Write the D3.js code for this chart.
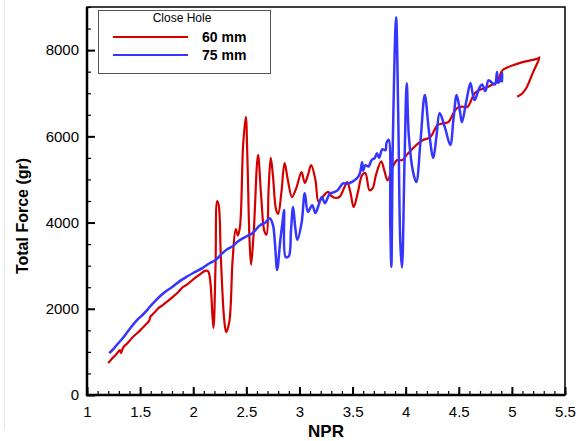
<!DOCTYPE html>
<html><head><meta charset="utf-8">
<script src="https://cdn.jsdelivr.net/npm/d3@7"></script>
<style>body{margin:0;background:#fff}svg{display:block}</style>
</head><body><svg id="c" width="583" height="441"></svg>
<script>
const xTicks = [1,1.5,2,2.5,3,3.5,4,4.5,5,5.5];
const yTicks = [0,2000,4000,6000,8000];
const seriesNames = ["60 mm","75 mm"];
const legendTitle = "Close Hole";
const red60 = [[1.20,740],[1.23,830],[1.27,930],[1.31,1040],[1.32,970],[1.34,1100],[1.38,1200],[1.43,1340],[1.48,1450],[1.52,1550],[1.56,1650],[1.585,1720],[1.60,1830],[1.63,1900],[1.67,2010],[1.71,2080],[1.75,2160],[1.80,2260],[1.86,2390],[1.90,2500],[1.94,2560],[1.97,2620],[2.02,2720],[2.06,2790],[2.11,2880],[2.14,2870],[2.16,2650],[2.19,1550],[2.21,3000],[2.225,4500],[2.24,4400],[2.26,3200],[2.29,1800],[2.31,1460],[2.34,1700],[2.37,3100],[2.40,3850],[2.42,3700],[2.44,3900],[2.47,5800],[2.495,6450],[2.51,5500],[2.53,3600],[2.545,3020],[2.57,3800],[2.61,5570],[2.64,4600],[2.67,3800],[2.69,3720],[2.71,4800],[2.73,5500],[2.75,5100],[2.78,4300],[2.80,4200],[2.83,4700],[2.86,5380],[2.89,5000],[2.93,4590],[2.97,4800],[3.02,5170],[3.05,4920],[3.08,5100],[3.11,5330],[3.15,5000],[3.18,4480],[3.22,4600],[3.27,4710],[3.30,4620],[3.34,4570],[3.38,4600],[3.42,4800],[3.45,4940],[3.48,4700],[3.51,4360],[3.55,4700],[3.59,5100],[3.62,5150],[3.66,4750],[3.69,4800],[3.72,5100],[3.77,5420],[3.80,5200],[3.83,4980],[3.88,5300],[3.92,5450],[3.97,5450],[4.01,5570],[4.06,5700],[4.11,5820],[4.16,5910],[4.23,5980],[4.30,6260],[4.35,6300],[4.40,6330],[4.48,6650],[4.53,6690],[4.58,6680],[4.65,7000],[4.70,7080],[4.75,7120],[4.80,7180],[4.86,7260],[4.91,7530],[4.96,7600],[5.01,7650],[5.10,7720],[5.19,7770],[5.25,7810],[5.26,7830],[5.24,7700],[5.20,7490],[5.14,7140],[5.10,7000],[5.05,6920]];
const blue75 = [[1.21,970],[1.25,1070],[1.28,1160],[1.33,1300],[1.38,1460],[1.43,1620],[1.48,1760],[1.52,1850],[1.56,1950],[1.59,2040],[1.65,2200],[1.70,2320],[1.75,2420],[1.80,2500],[1.89,2670],[1.95,2760],[2.00,2830],[2.09,2950],[2.15,3050],[2.21,3130],[2.27,3280],[2.32,3380],[2.37,3450],[2.42,3560],[2.47,3640],[2.51,3690],[2.56,3760],[2.63,3940],[2.68,4000],[2.72,4100],[2.75,3950],[2.77,3500],[2.79,2900],[2.82,3600],[2.84,3990],[2.855,4290],[2.87,3200],[2.90,3220],[2.92,3800],[2.94,4360],[2.96,3900],[2.98,3600],[3.02,3990],[3.05,4680],[3.08,4250],[3.12,4400],[3.15,4220],[3.18,4400],[3.21,4590],[3.24,4450],[3.27,4600],[3.29,4680],[3.32,4700],[3.36,4750],[3.41,4910],[3.45,4900],[3.50,4950],[3.55,5050],[3.57,5150],[3.59,5400],[3.60,5200],[3.62,5330],[3.65,5300],[3.68,5450],[3.71,5500],[3.73,5610],[3.75,5500],[3.78,5700],[3.81,5680],[3.82,5850],[3.84,5920],[3.855,4000],[3.865,2970],[3.88,6000],[3.91,8760],[3.93,6500],[3.95,3500],[3.965,2950],[3.99,5500],[4.01,7230],[4.03,6000],[4.07,5170],[4.10,4940],[4.14,5900],[4.18,6960],[4.22,6100],[4.26,5500],[4.29,6000],[4.32,6540],[4.37,6200],[4.42,5800],[4.45,6400],[4.48,6960],[4.51,6600],[4.53,6330],[4.57,6800],[4.61,7240],[4.63,7000],[4.65,6840],[4.69,7100],[4.72,7200],[4.75,7050],[4.78,7300],[4.81,7250],[4.84,7200],[4.86,7490],[4.87,7240],[4.89,7300],[4.91,7470],[4.905,7250]];

const svg = d3.select("#c");
const L=87, R=565, T=7, B=395;
const x = d3.scaleLinear().domain([1,5.5]).range([L,R]);
const y = d3.scaleLinear().domain([0,9000]).range([B,T]);
const font = "Liberation Sans, Arial, sans-serif";

svg.append("line").attr("x1",4.5).attr("x2",4.5).attr("y1",0).attr("y2",430).attr("stroke","#e6e6e6");

svg.append("rect").attr("x",L).attr("y",T).attr("width",R-L).attr("height",B-T)
  .attr("fill","none").attr("stroke","#000").attr("stroke-width",1.5);

const line = d3.line().x(d=>x(d[0])).y(d=>y(d[1])).curve(d3.curveCatmullRom.alpha(0.5));
svg.append("path").datum(red60).attr("d",line).attr("fill","none").attr("stroke","#d40000").attr("stroke-width",2.2).attr("stroke-linejoin","round");
svg.append("path").datum(blue75).attr("d",line).attr("fill","none").attr("stroke","#3535ff").attr("stroke-width",2.5).attr("stroke-linejoin","round");

const xMinor = d3.range(10,56).map(v=>v/10);
const xa = d3.axisBottom(x).tickValues(xMinor).tickSize(-4).tickFormat("");
svg.append("g").attr("transform",`translate(0,${B})`).call(xa).call(g=>{g.select(".domain").remove();g.selectAll("line").attr("stroke-width",1.2);});
const xb = d3.axisBottom(x).tickValues(xTicks).tickSize(-8).tickPadding(11).tickFormat(d3.format("~g"));
svg.append("g").attr("transform",`translate(0,${B})`).call(xb).call(g=>{g.select(".domain").remove();g.selectAll("line").attr("stroke-width",2);g.selectAll("text").attr("font-family",font).attr("font-size",15).attr("fill","#000");});

const yMinor = d3.range(0,9001,500);
const ya = d3.axisLeft(y).tickValues(yMinor).tickSize(-4).tickFormat("");
svg.append("g").attr("transform",`translate(${L},0)`).call(ya).call(g=>{g.select(".domain").remove();g.selectAll("line").attr("stroke-width",1.2);});
const yb = d3.axisLeft(y).tickValues(yTicks).tickSize(-8).tickPadding(8).tickFormat(d3.format("d"));
svg.append("g").attr("transform",`translate(${L},0)`).call(yb).call(g=>{g.select(".domain").remove();g.selectAll("line").attr("stroke-width",2);g.selectAll("text").attr("font-family",font).attr("font-size",15).attr("fill","#000");});

svg.append("line").attr("x1",L).attr("x2",L).attr("y1",T).attr("y2",B+1).attr("stroke","#000").attr("stroke-width",2.5);
svg.append("line").attr("x1",L-1).attr("x2",R).attr("y1",B).attr("y2",B).attr("stroke","#000").attr("stroke-width",2.5);

svg.append("text").attr("x",(L+R)/2).attr("y",437).attr("text-anchor","middle").attr("font-family",font).attr("font-weight","bold").attr("font-size",17).text("NPR");
svg.append("text").attr("transform",`translate(28,${(T+B)/2+15}) rotate(-90)`).attr("text-anchor","middle").attr("font-family",font).attr("font-weight","bold").attr("font-size",16).text("Total Force (gr)");

const lg = svg.append("g");
lg.append("rect").attr("x",98.5).attr("y",10.5).attr("width",172).attr("height",63).attr("fill","#fff").attr("stroke","#555").attr("stroke-width",1);
lg.append("text").attr("x",182).attr("y",22).attr("text-anchor","middle").attr("font-family",font).attr("font-size",12).text(legendTitle);
const cols=["#d40000","#3535ff"];
seriesNames.forEach((n,i)=>{
  const yy = 37 + i*18;
  lg.append("line").attr("x1",113).attr("x2",188).attr("y1",yy).attr("y2",yy).attr("stroke",cols[i]).attr("stroke-width",2);
  lg.append("text").attr("x",202).attr("y",yy+5).attr("font-family",font).attr("font-weight","bold").attr("font-size",14).text(n);
});
</script></body></html>
